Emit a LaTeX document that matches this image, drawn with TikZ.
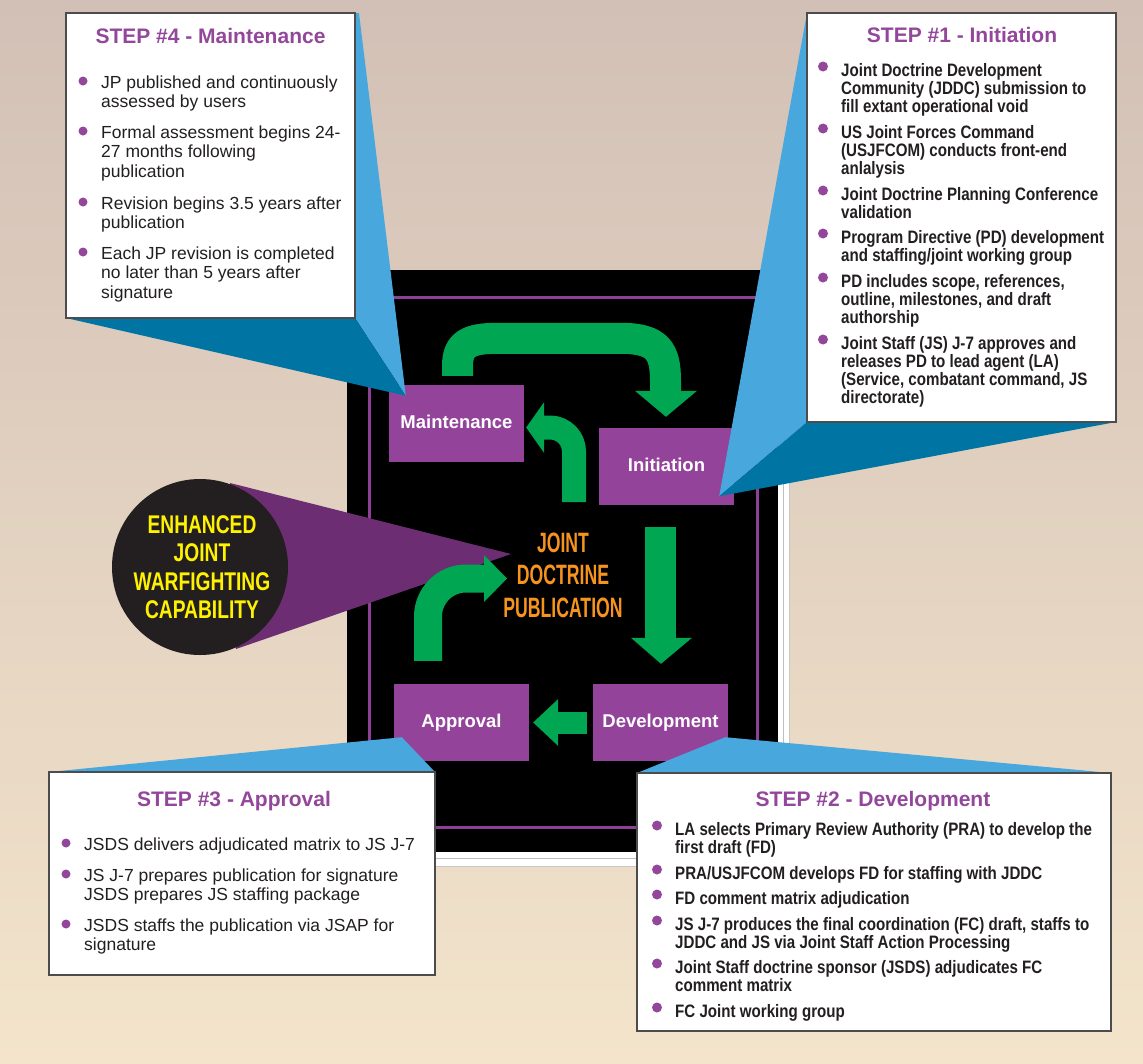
\documentclass[tikz,border=0pt]{standalone}
\usepackage{fontspec}
\setmainfont{Liberation Sans}
\newfontfamily\condA{Liberation Sans}[FakeStretch=0.84]
\newfontfamily\condB{Liberation Sans}[FakeStretch=0.75]
\newfontfamily\condC{Liberation Sans}[FakeStretch=0.63]
\usetikzlibrary{calc}
\definecolor{bgtop}{RGB}{210,192,182}
\definecolor{bgbot}{RGB}{243,228,203}
\definecolor{jgreen}{RGB}{0,166,81}
\definecolor{jpurple}{RGB}{147,68,154}
\definecolor{framepurple}{RGB}{142,63,151}
\definecolor{conepurple}{RGB}{108,45,115}
\definecolor{lblue}{RGB}{72,167,221}
\definecolor{dblue}{RGB}{0,117,163}
\definecolor{titlepurple}{RGB}{147,71,155}
\definecolor{bul}{RGB}{147,71,155}
\definecolor{txt}{RGB}{35,31,32}
\definecolor{jyellow}{RGB}{255,242,0}
\definecolor{jorange}{RGB}{247,148,29}
\definecolor{circ}{RGB}{35,31,32}
\newcommand\stepitem[7]{%
  \node[#4] (#1) at (#2,#3) {\parbox[t]{520pt}{\raggedright #7}};
  \fill[bul] ($(#1.base west)+(-18,-#5)$) circle[radius=#6];
}
\begin{document}
\begin{tikzpicture}[x=1pt,y=-1pt,
  stage/.style={fill=jpurple, minimum width=135pt, minimum height=77pt, inner sep=0pt, text=white, font=\fontsize{18.5}{20}\selectfont\bfseries},
  callbox/.style={fill=white, draw=black!70, line width=1.2pt},
  steptitle/.style={anchor=base, text=titlepurple, font=\fontsize{21}{24}\selectfont\bfseries, inner sep=0pt},
  itemreg/.style={anchor=base west, inner sep=0pt, text=txt, font=\fontsize{17.5}{19.6}\selectfont},
  itembold/.style={anchor=base west, inner sep=0pt, text=txt, font=\condA\fontsize{18}{18}\selectfont\bfseries},
  garrow/.style={draw=jgreen, line cap=butt, line join=round},
  ghead/.style={fill=jgreen},
]
\useasboundingbox (0,0) rectangle (1143,1063);
% background
\shade[top color=bgtop, bottom color=bgbot] (0,0) rectangle (1143,1063);
% board
\fill[white] (352,275) rectangle (789,866);
\draw[black!22, line width=0.8pt] (789,275) -- (789,866) -- (352,866);
\draw[black!25, line width=0.8pt] (783,280) -- (783,858.5) -- (357,858.5);
\fill[black] (347,270) rectangle (778,852);
\draw[framepurple, line width=3pt] (369,297) rectangle (757,827);
% cone and circle
\fill[conepurple] (230,483) -- (511,554) -- (236,649) -- cycle;
\node[circle, fill=circ, minimum size=176pt, inner sep=0pt] (ejwc) at (200,567) {};
\node[anchor=base, inner sep=0pt, text=jyellow, font=\condB\fontsize{25.6}{28.5}\selectfont\bfseries] (ejwctext) at (202,533) {\parbox[t]{200pt}{\centering ENHANCED\\JOINT\\WARFIGHTING\\CAPABILITY}};
% stages
\node[stage] (maint) at (456.5,423.5) {\raisebox{3pt}{Maintenance}};
\node[stage] (init) at (666.5,466.5) {\raisebox{3pt}{Initiation}};
\node[stage] (appr) at (461.5,722.5) {\raisebox{1.5pt}{Approval}};
\node[stage] (dev) at (660.5,722.5) {\raisebox{1.5pt}{Development}};
% central text
\node[anchor=base, inner sep=0pt, text=jorange, font=\condC\fontsize{28}{32.5}\selectfont\bfseries] (jdp) at (563,552) {\parbox[t]{200pt}{\centering JOINT\\DOCTRINE\\PUBLICATION}};
% green arrows
% 1: Maintenance -> Initiation
\coordinate (a1s) at ($(maint.north)+(1,-9)$);
\coordinate (a1e) at ($(init.north)+(-1,-36)$);
\draw[garrow, line width=31pt] (a1s) -- ($(a1s)+(0,-10)$) .. controls ($(a1s)+(0,-32)$) and ($(a1s)+(12,-37.5)$) .. ($(a1s)+(40,-37.5)$)
   -- ($(a1e |- a1s)+(-45,-37.5)$) .. controls ($(a1e |- a1s)+(-8,-37.5)$) and ($(a1e |- a1s)+(0,-25)$) .. ($(a1e |- a1s)+(0,5)$) -- (a1e);
\fill[ghead] ($(a1e)+(-30.5,-1)$) -- ($(a1e)+(31.5,-1)$) -- ($(init.north)+(-0.5,-11)$) -- cycle;
% 2: centre -> Maintenance
\coordinate (a2s) at (574,502);
\coordinate (a2e) at ($(maint.east)+(20,4)$);
\draw[garrow, line width=24pt, rounded corners=24pt] (a2s) -- (a2s |- a2e) -- (a2e);
\fill[ghead] ($(maint.east)+(20,-21.5)$) -- ($(maint.east)+(2,4)$) -- ($(maint.east)+(20,29.5)$) -- cycle;
% 3: Initiation -> Development
\coordinate (a3s) at ($(init.south)+(-6,22)$);
\coordinate (a3e) at ($(dev.north)+(0,-45)$);
\draw[garrow, line width=31pt] (a3s) -- (a3e);
\fill[ghead] ($(a3e)+(-29.5,-1)$) -- ($(a3e)+(31.5,-1)$) -- ($(dev.north)+(0.5,-20)$) -- cycle;
% 4: Development -> Approval
\coordinate (a4s) at ($(dev.west)+(-6,0)$);
\coordinate (a4e) at ($(appr.east)+(28,0)$);
\draw[garrow, line width=22pt] (a4s) -- (a4e);
\fill[ghead] ($(a4e)+(1,-23.5)$) -- ($(appr.east)+(4,0)$) -- ($(a4e)+(1,23.5)$) -- cycle;
% 5: Approval -> publication
\coordinate (a5s) at ($(appr.north)+(-33.5,-23)$);
\coordinate (a5e) at (485,578.5);
\draw[garrow, line width=28pt, rounded corners=38pt] (a5s) -- (a5s |- a5e) -- (a5e);
\fill[ghead] (484,555) -- (507,578.5) -- (484,602) -- cycle;
% callout wedges
\fill[lblue] (355,13) -- (359,13) -- ($(maint.north west)+(17,11)$) -- (355,318) -- cycle;
\fill[dblue] (66,318) -- (355,318) -- ($(maint.north west)+(17,11)$) -- cycle;
\fill[lblue] (807,13) -- ($(init.south east)+(-15,-9)$) -- (807,422) -- cycle;
\fill[dblue] (807,422) -- (1116,422) -- ($(init.south east)+(-15,-9)$) -- cycle;
\fill[lblue] (49,772) -- ($(appr.south west)+(8,-24)$) -- (435,772) -- cycle;
\fill[lblue] (637,773) -- ($(dev.south east)+(-3,-24)$) -- (1111,773) -- cycle;
% callout boxes
\draw[callbox] (66,13) rectangle (355,318);
\draw[callbox] (807,13) rectangle (1116,422);
\draw[callbox] (49,772) rectangle (435,975);
\draw[callbox] (637,773) rectangle (1111,1031);
% titles
\node[steptitle] (t4) at (210.5,43) {STEP \#4 - Maintenance};
\node[steptitle] (t1) at (962,42) {STEP \#1 - Initiation};
\node[steptitle] (t2) at (873,806) {STEP \#2 - Development};
\node[steptitle] (t3) at (234,806) {STEP \#3 - Approval};
% step 4 items
\stepitem{s4a}{101}{88}{itemreg}{7}{4.5}{JP published and continuously\\assessed by users}
\stepitem{s4b}{101}{138}{itemreg}{7}{4.5}{Formal assessment begins 24-\\27 months following\\publication}
\stepitem{s4c}{101}{209}{itemreg}{7}{4.5}{Revision begins 3.5 years after\\publication}
\stepitem{s4d}{101}{259}{itemreg}{7}{4.5}{Each JP revision is completed\\no later than 5 years after\\signature}
% step 3 items
\stepitem{s3a}{84}{850}{itemreg}{7}{4.5}{JSDS delivers adjudicated matrix to JS J-7}
\stepitem{s3b}{84}{881}{itemreg}{7}{4.5}{JS J-7 prepares publication for signature\\JSDS prepares JS staffing package}
\stepitem{s3c}{84}{931}{itemreg}{7}{4.5}{JSDS staffs the publication via JSAP for\\signature}
% step 1 items
\stepitem{s1a}{841}{76.5}{itembold}{10}{5}{Joint Doctrine Development\\Community (JDDC) submission to\\fill extant operational void}
\stepitem{s1b}{841}{138.5}{itembold}{10}{5}{US Joint Forces Command\\(USJFCOM) conducts front-end\\anlalysis}
\stepitem{s1c}{841}{200.5}{itembold}{10}{5}{Joint Doctrine Planning Conference\\validation}
\stepitem{s1d}{841}{243.5}{itembold}{10}{5}{Program Directive (PD) development\\and staffing/joint working group}
\stepitem{s1e}{841}{287.5}{itembold}{10}{5}{PD includes scope, references,\\outline, milestones, and draft\\authorship}
\stepitem{s1f}{841}{349.5}{itembold}{10}{5}{Joint Staff (JS) J-7 approves and\\releases PD to lead agent (LA)\\(Service, combatant command, JS\\directorate)}
% step 2 items
\stepitem{s2a}{675}{835.5}{itembold}{10}{5}{LA selects Primary Review Authority (PRA) to develop the\\first draft (FD)}
\stepitem{s2b}{675}{879.5}{itembold}{10}{5}{PRA/USJFCOM develops FD for staffing with JDDC}
\stepitem{s2c}{675}{904.5}{itembold}{10}{5}{FD comment matrix adjudication}
\stepitem{s2d}{675}{930.5}{itembold}{10}{5}{JS J-7 produces the final coordination (FC) draft, staffs to\\JDDC and JS via Joint Staff Action Processing}
\stepitem{s2e}{675}{973.5}{itembold}{10}{5}{Joint Staff doctrine sponsor (JSDS) adjudicates FC\\comment matrix}
\stepitem{s2f}{675}{1017.5}{itembold}{10}{5}{FC Joint working group}
\end{tikzpicture}
\end{document}
